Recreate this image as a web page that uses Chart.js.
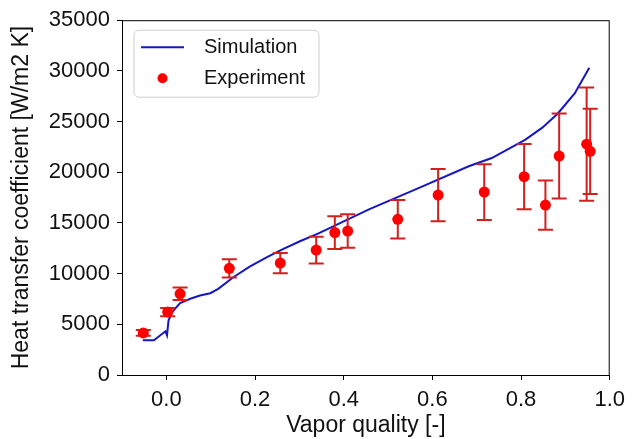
<!DOCTYPE html>
<html>
<head>
<meta charset="utf-8">
<script src="https://cdn.jsdelivr.net/npm/chart.js@4/dist/chart.umd.min.js"></script>
<style>
  html, body { margin: 0; padding: 0; background: #ffffff; }
  #wrap { width: 632px; height: 439px; }
</style>
</head>
<body>
<div id="wrap"><canvas id="c" width="632" height="439"></canvas></div>
<script>
// Simulated heat transfer coefficient along vapor quality
const simQuality = [-0.053, -0.028, -0.002, 0.0015, 0.005, 0.013, 0.031, 0.054, 0.076, 0.099, 0.117,
  0.151, 0.188, 0.226, 0.263, 0.300, 0.342, 0.457, 0.570, 0.682, 0.734, 0.809, 0.848, 0.883, 0.921, 0.954];
const simHTC = [3430, 3430, 4310, 3920, 5390, 6200, 7090, 7520, 7840, 8070, 8500,
  9640, 10690, 11600, 12420, 13170, 13950, 16340, 18460, 20590, 21400, 23200, 24400, 25800, 27770, 30320];

// Measured values with their uncertainty
const expQuality = [-0.052, 0.003, 0.031, 0.142, 0.257, 0.338, 0.380, 0.409, 0.522, 0.613, 0.717, 0.807, 0.855, 0.886, 0.948, 0.956];
const expHTC = [4150, 6210, 8010, 10520, 11040, 12320, 14050, 14200, 15360, 17750, 18050, 19560, 16760, 21600, 22770, 22060];
const expErr = [280, 410, 620, 900, 1000, 1320, 1620, 1650, 1900, 2580, 2750, 3220, 2430, 4200, 5590, 4200];

const xTicks = [0.0, 0.2, 0.4, 0.6, 0.8, 1.0];
const yTicks = [0, 5000, 10000, 15000, 20000, 25000, 30000, 35000];

const FONT = "'Liberation Sans', Arial, Helvetica, sans-serif";
const LINE_COLOR = '#1616c4';
const POINT_COLOR = '#ff0000';
const ERR_COLOR = '#d41f1f';

// Error bars with caps, drawn just before the measured points
const errorBars = {
  id: 'errorBars',
  beforeDatasetDraw(chart, args) {
    const ds = chart.data.datasets[args.index];
    if (!ds.errors) return;
    const { ctx, scales: { x, y } } = chart;
    ctx.save();
    ctx.strokeStyle = ERR_COLOR;
    ctx.lineWidth = 2;
    const cap = 7.5;
    ds.data.forEach((p, i) => {
      const px = x.getPixelForValue(p.x);
      const yHi = y.getPixelForValue(p.y + ds.errors[i]);
      const yLo = y.getPixelForValue(p.y - ds.errors[i]);
      ctx.beginPath();
      ctx.moveTo(px, yHi); ctx.lineTo(px, yLo);
      ctx.moveTo(px - cap, yHi); ctx.lineTo(px + cap, yHi);
      ctx.moveTo(px - cap, yLo); ctx.lineTo(px + cap, yLo);
      ctx.stroke();
    });
    ctx.restore();
  }
};

// Full frame around the plot plus the legend box in the upper-left corner
const frameAndLegend = {
  id: 'frameAndLegend',
  afterDraw(chart) {
    const { ctx, chartArea: a } = chart;
    ctx.save();
    ctx.strokeStyle = '#000';
    ctx.lineWidth = 1;
    ctx.strokeRect(a.left + 0.5, a.top + 0.5, a.right - a.left - 1, a.bottom - a.top);

    const bx = a.left + 12, by = a.top + 10, bw = 185, bh = 67, r = 5;
    ctx.beginPath();
    ctx.moveTo(bx + r, by);
    ctx.arcTo(bx + bw, by, bx + bw, by + bh, r);
    ctx.arcTo(bx + bw, by + bh, bx, by + bh, r);
    ctx.arcTo(bx, by + bh, bx, by, r);
    ctx.arcTo(bx, by, bx + bw, by, r);
    ctx.closePath();
    ctx.fillStyle = 'rgba(255,255,255,0.85)';
    ctx.fill();
    ctx.strokeStyle = '#cfcfcf';
    ctx.stroke();

    const row1 = by + 17, row2 = by + 48;
    const sx0 = bx + 7, sx1 = bx + 50;
    ctx.strokeStyle = LINE_COLOR;
    ctx.lineWidth = 2;
    ctx.beginPath(); ctx.moveTo(sx0, row1); ctx.lineTo(sx1, row1); ctx.stroke();
    ctx.fillStyle = POINT_COLOR;
    ctx.beginPath(); ctx.arc((sx0 + sx1) / 2, row2, 5, 0, Math.PI * 2); ctx.fill();

    ctx.fillStyle = '#111';
    ctx.font = '20px ' + FONT;
    ctx.textBaseline = 'middle';
    ctx.textAlign = 'left';
    chart.data.datasets.forEach((ds, i) => {
      ctx.fillText(ds.label, bx + 70, i === 0 ? row1 : row2);
    });
    ctx.restore();
  }
};

new Chart(document.getElementById('c'), {
  type: 'scatter',
  data: {
    datasets: [
      {
        label: 'Simulation',
        data: simQuality.map((q, i) => ({ x: q, y: simHTC[i] })),
        showLine: true,
        borderColor: LINE_COLOR,
        borderWidth: 2,
        pointRadius: 0,
        tension: 0,
        order: 1
      },
      {
        label: 'Experiment',
        data: expQuality.map((q, i) => ({ x: q, y: expHTC[i] })),
        errors: expErr,
        backgroundColor: POINT_COLOR,
        borderColor: POINT_COLOR,
        borderWidth: 0,
        pointRadius: 5.5,
        order: 0
      }
    ]
  },
  options: {
    responsive: false,
    animation: false,
    events: [],
    layout: { autoPadding: false, padding: { left: 0, right: 16, top: 18, bottom: 0 } },
    plugins: { legend: { display: false }, tooltip: { enabled: false } },
    scales: {
      x: {
        type: 'linear',
        min: -0.1,
        max: 1.0,
        afterBuildTicks(s) { s.ticks = xTicks.map(v => ({ value: v })); },
        afterFit(s) { s.height = 64; },
        ticks: {
          color: '#111',
          font: { family: FONT, size: 22 },
          padding: 7,
          maxRotation: 0,
          callback: v => Number(v).toFixed(1)
        },
        grid: { display: true, drawOnChartArea: false, drawTicks: true, tickLength: 5, color: '#000' },
        border: { display: true, color: '#000', width: 1 },
        title: { display: true, text: 'Vapor quality [-]', color: '#111', font: { family: FONT, size: 23 }, padding: { top: 0, bottom: 0 } }
      },
      y: {
        type: 'linear',
        min: 0,
        max: 35000,
        afterBuildTicks(s) { s.ticks = yTicks.map(v => ({ value: v })); },
        afterFit(s) { s.width = 122; },
        ticks: {
          color: '#111',
          font: { family: FONT, size: 22 },
          padding: 7,
          callback: v => String(v)
        },
        grid: { display: true, drawOnChartArea: false, drawTicks: true, tickLength: 5, color: '#000' },
        border: { display: true, color: '#000', width: 1 },
        title: { display: true, text: 'Heat transfer coefficient [W/m2 K]', color: '#111', font: { family: FONT, size: 23 }, padding: { top: 8, bottom: 0 } }
      }
    }
  },
  plugins: [errorBars, frameAndLegend]
});
</script>
</body>
</html>
